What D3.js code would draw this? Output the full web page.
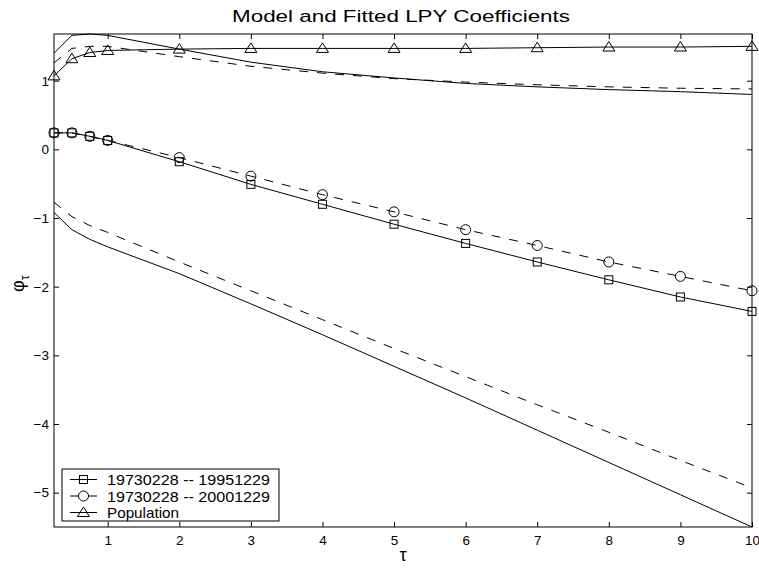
<!DOCTYPE html>
<html>
<head>
<meta charset="utf-8">
<script src="https://cdn.jsdelivr.net/npm/d3@7"></script>
<style>
  body { margin: 0; background: #fff; }
  svg { display: block; }
  text { font-family: "Liberation Sans", Arial, Helvetica, sans-serif; fill: #000; }
</style>
</head>
<body>
<svg id="chart" width="759" height="569"></svg>
<script>
// Maturities (years)
const tau = [0.25, 0.5, 0.75, 1, 2, 3, 4, 5, 6, 7, 8, 9, 10];

// Fitted LPY coefficients for the two sample periods and the population values
const fit1995 = [0.24, 0.24, 0.19, 0.13, -0.18, -0.51, -0.80, -1.09, -1.37, -1.64, -1.90, -2.15, -2.36];
const fit2000 = [0.24, 0.24, 0.19, 0.13, -0.12, -0.39, -0.66, -0.91, -1.17, -1.40, -1.64, -1.85, -2.06];
const population = [1.07, 1.32, 1.41, 1.44, 1.46, 1.47, 1.47, 1.47, 1.47, 1.48, 1.49, 1.49, 1.50];

// Model coefficient curves (no markers): solid and dashed pairs
const modelUpperSolid  = [1.40, 1.66, 1.68, 1.66, 1.46, 1.27, 1.13, 1.04, 0.96, 0.91, 0.87, 0.84, 0.80];
const modelUpperDashed = [1.26, 1.47, 1.50, 1.50, 1.35, 1.21, 1.11, 1.03, 0.98, 0.94, 0.91, 0.89, 0.88];
const modelLowerSolid  = [-0.92, -1.17, -1.31, -1.42, -1.81, -2.25, -2.70, -3.16, -3.62, -4.09, -4.56, -5.03, -5.50];
const modelLowerDashed = [-0.77, -0.98, -1.11, -1.21, -1.64, -2.06, -2.48, -2.90, -3.31, -3.72, -4.12, -4.53, -4.93];

// Axis ticks and labels
const xTicks = [1, 2, 3, 4, 5, 6, 7, 8, 9, 10];
const yTicks = [-5, -4, -3, -2, -1, 0, 1];
const titleText = "Model and Fitted LPY Coefficients";
const legendLabels = ["19730228 -- 19951229", "19730228 -- 20001229", "Population"];

const svg = d3.select("#chart");
const plot = { left: 54, right: 752, top: 34, bottom: 527 };

const x = d3.scaleLinear().domain([0.25, 10]).range([plot.left, plot.right]);
const y = d3.scaleLinear().domain([-5.5, 1.68]).range([plot.bottom, plot.top]);

const line = d3.line().x(d => x(d[0])).y(d => y(d[1]));
const pairs = vals => tau.map((t, i) => [t, vals[i]]);

const DASH = "9,9";

// Axes: ticks point inward on all four sides
function styleAxis(g) {
  g.select(".domain").remove();
  g.selectAll(".tick line").attr("stroke", "#000");
  g.selectAll(".tick text").attr("font-size", 13.5).attr("fill", "#000")
    .attr("font-family", '"Liberation Sans", Arial, sans-serif');
}

svg.append("g").attr("transform", `translate(0,${plot.bottom})`)
  .call(d3.axisBottom(x).tickValues(xTicks).tickSizeInner(-5).tickSizeOuter(0).tickPadding(8))
  .call(styleAxis);
svg.append("g").attr("transform", `translate(0,${plot.top})`)
  .call(d3.axisTop(x).tickValues(xTicks).tickSizeInner(-5).tickSizeOuter(0).tickFormat(""))
  .call(styleAxis);
svg.append("g").attr("transform", `translate(${plot.left},0)`)
  .call(d3.axisLeft(y).tickValues(yTicks).tickSizeInner(-5).tickSizeOuter(0).tickPadding(5))
  .call(styleAxis);
svg.append("g").attr("transform", `translate(${plot.right},0)`)
  .call(d3.axisRight(y).tickValues(yTicks).tickSizeInner(-5).tickSizeOuter(0).tickFormat(""))
  .call(styleAxis);

// Box around the plot area
svg.append("rect")
  .attr("x", plot.left).attr("y", plot.top)
  .attr("width", plot.right - plot.left).attr("height", plot.bottom - plot.top)
  .attr("fill", "none").attr("stroke", "#000").attr("stroke-width", 1);

// Curves
const curves = [
  { vals: modelUpperSolid, dash: null },
  { vals: modelUpperDashed, dash: DASH },
  { vals: modelLowerSolid, dash: null },
  { vals: modelLowerDashed, dash: DASH },
  { vals: fit1995, dash: null },
  { vals: fit2000, dash: DASH },
  { vals: population, dash: null }
];
svg.append("g").selectAll("path").data(curves).join("path")
  .attr("d", c => line(pairs(c.vals)))
  .attr("fill", "none").attr("stroke", "#000").attr("stroke-width", 1)
  .attr("stroke-dasharray", c => c.dash);

// Marker shapes
function drawMarker(g, kind, cx, cy) {
  if (kind === "square") {
    g.append("rect").attr("x", cx - 4).attr("y", cy - 4).attr("width", 8).attr("height", 8)
      .attr("fill", "none").attr("stroke", "#000");
  } else if (kind === "circle") {
    g.append("circle").attr("cx", cx).attr("cy", cy).attr("r", 5)
      .attr("fill", "none").attr("stroke", "#000");
  } else {
    g.append("path")
      .attr("d", `M${cx},${cy - 5.5}L${cx + 6},${cy + 4}L${cx - 6},${cy + 4}Z`)
      .attr("fill", "none").attr("stroke", "#000");
  }
}

const markerSeries = [
  { vals: fit1995, kind: "square" },
  { vals: fit2000, kind: "circle" },
  { vals: population, kind: "triangle" }
];
const mg = svg.append("g");
markerSeries.forEach(s => {
  pairs(s.vals).forEach(p => drawMarker(mg, s.kind, x(p[0]), y(p[1])));
});

// Title and axis labels
svg.append("text").attr("x", 401).attr("y", 22).attr("text-anchor", "middle")
  .attr("font-size", 17).attr("textLength", 338).attr("lengthAdjust", "spacingAndGlyphs")
  .text(titleText);

svg.append("text").attr("x", 403).attr("y", 561).attr("text-anchor", "middle")
  .attr("font-size", 18).attr("font-family", '"Liberation Serif", "DejaVu Serif", serif')
  .text("τ");

const yl = svg.append("text")
  .attr("transform", "translate(24,292) rotate(-90)")
  .attr("font-size", 18).attr("font-family", '"Liberation Serif", "DejaVu Serif", serif');
yl.append("tspan").text("φ");
yl.append("tspan").attr("dy", 5).attr("font-size", 13).text("τ");

// Legend
const lg = svg.append("g");
lg.append("rect").attr("x", 62).attr("y", 469).attr("width", 217).attr("height", 52)
  .attr("fill", "#fff").attr("stroke", "#000");
const legendRows = [
  { label: legendLabels[0], kind: "square", dash: null, len: 163 },
  { label: legendLabels[1], kind: "circle", dash: DASH, len: 163 },
  { label: legendLabels[2], kind: "triangle", dash: null, len: 72 }
];
legendRows.forEach((r, i) => {
  const cy = 479.5 + i * 16.5;
  lg.append("line").attr("x1", 70).attr("x2", 97).attr("y1", cy).attr("y2", cy)
    .attr("stroke", "#000").attr("stroke-dasharray", r.dash);
  drawMarker(lg, r.kind, 83.5, cy);
  lg.append("text").attr("x", 107).attr("y", cy + 5.5).attr("font-size", 15)
    .attr("textLength", r.len).attr("lengthAdjust", "spacingAndGlyphs")
    .text(r.label);
});
</script>
</body>
</html>
